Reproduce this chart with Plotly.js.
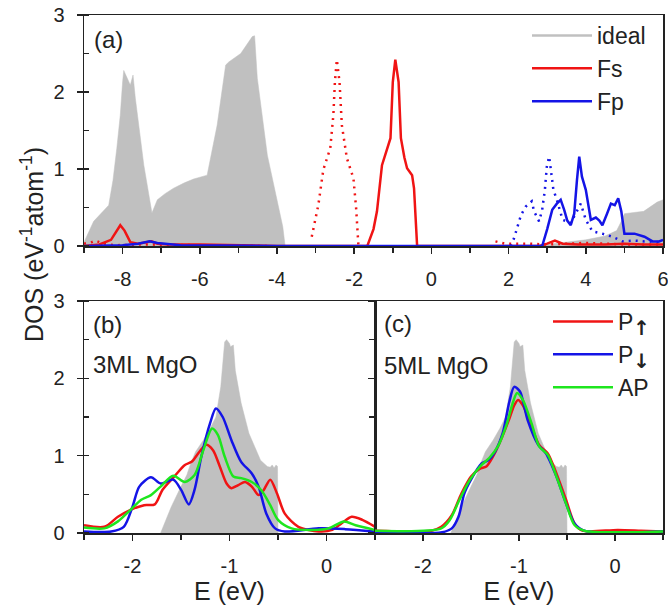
<!DOCTYPE html>
<html>
<head>
<meta charset="utf-8">
<script src="https://cdn.plot.ly/plotly-3.0.1.min.js"></script>
<style>html,body{margin:0;padding:0;background:#fff;}#plot{width:668px;height:609px;}</style>
</head>
<body>
<div id="plot"></div>
<script>
// ---------- Panel (a) data ----------
const idealA_E = [-9, -8.75, -8.36, -8.25, -8.15, -8.06, -8.0, -7.97, -7.8, -7.73, -7.67, -7.45, -7.24, -7.15, -7.1, -6.9, -6.68, -6.4, -6.16, -5.81, -5.55, -5.33, -5.25, -4.94, -4.64, -4.58, -4.51, -4.25, -3.99, -3.85, -3.79, 2.8, 3.0, 3.5, 4.0, 4.5, 4.8, 4.95, 5.0, 5.5, 5.7, 5.85, 6.0];
const idealA_D = [0.05, 0.32, 0.53, 0.85, 1.27, 1.7, 2.13, 2.28, 2.09, 2.22, 1.92, 1.05, 0.43, 0.53, 0.6, 0.68, 0.75, 0.82, 0.87, 0.92, 1.57, 2.35, 2.39, 2.50, 2.72, 2.73, 2.18, 1.18, 0.58, 0.25, 0, 0, 0.02, 0.05, 0.08, 0.13, 0.2, 0.35, 0.42, 0.45, 0.52, 0.57, 0.6];

const fsE = [-9, -8.6, -8.3, -8.15, -8.06, -7.95, -7.8, -7.6, -7.4, -7.25, -7.1, -6.8, -6, -4, -2, -1.66, -1.5, -1.41, -1.28, -1.15, -1.06, -1.0, -0.935, -0.85, -0.79, -0.7, -0.63, -0.5, -0.45, -0.37, 0, 2.8, 3.0, 3.2, 3.4, 3.8, 4.5, 5, 5.5, 6];
const fsD = [0.0, 0.02, 0.08, 0.2, 0.27, 0.2, 0.05, 0.03, 0.05, 0.06, 0.03, 0.02, 0.02, 0.0, 0, 0, 0.22, 0.45, 1.05, 1.25, 1.40, 2.13, 2.42, 2.13, 1.4, 1.15, 1.01, 0.92, 0.75, 0, 0, 0, 0.03, 0.07, 0.03, 0.02, 0.02, 0.03, 0.02, 0.02];

const fsMinE = [-9, -8.8, -8.7, -8.5, -8.2, -7.5, -6, -4.2, null, -3.1, -2.93, -2.8, -2.62, -2.54, -2.5, -2.45, -2.38, -2.32, -2.19, -2.02, -1.95, -1.89, null, 1.66, 1.9, 2.5, 3, 4, 5, 6];
const fsMinD = [0.03, 0.05, 0.07, 0.03, 0.01, 0.02, 0.01, 0.0, null, 0.12, 0.53, 0.99, 1.27, 1.70, 2.13, 2.42, 2.13, 1.57, 1.14, 0.88, 0.49, 0, null, 0.06, 0.03, 0.03, 0.02, 0.04, 0.02, 0.02];

const fpE = [-9, -8, -7.6, -7.3, -7.1, -6.5, -4, 2.8, 2.87, 3.0, 3.13, 3.25, 3.35, 3.44, 3.52, 3.61, 3.7, 3.77, 3.83, 3.9, 4.0, 4.13, 4.26, 4.35, 4.43, 4.55, 4.65, 4.75, 4.84, 4.92, 5.0, 5.26, 5.52, 5.73, 5.9, 6];
const fpD = [0, 0.01, 0.03, 0.06, 0.04, 0.01, 0, 0, 0.0, 0.22, 0.47, 0.55, 0.60, 0.47, 0.33, 0.27, 0.42, 0.85, 1.16, 0.9, 0.73, 0.34, 0.37, 0.33, 0.27, 0.42, 0.55, 0.53, 0.62, 0.45, 0.16, 0.16, 0.12, 0.06, 0.06, 0.08];

const fpMinE = [2.05, 2.14, 2.23, 2.32, 2.44, 2.6, 2.66, 2.79, 2.87, 2.94, 2.99, 3.05, 3.09, 3.16, 3.25, 3.40, 3.61, 3.77, 3.87, 4.0, 4.17, 4.43, 4.69, 4.95, 5.26, 5.52, 5.78, 6.0];
const fpMinD = [0.0, 0.1, 0.25, 0.40, 0.51, 0.58, 0.45, 0.32, 0.47, 0.73, 1.03, 1.16, 1.01, 0.73, 0.6, 0.34, 0.30, 0.45, 0.55, 0.34, 0.19, 0.16, 0.12, 0.06, 0.07, 0.06, 0.05, 0.05];

// ---------- Panels (b), (c): ideal ----------
const idealB_E = [-1.71, -1.60, -1.50, -1.44, -1.40, -1.35, -1.27, -1.20, -1.14, -1.09, -1.05, -1.03, -1.0, -0.99, -0.96, -0.94, -0.88, -0.80, -0.68, -0.61, -0.58, -0.56, -0.54, -0.52, -0.505, -0.50];
const idealB_D = [0, 0.34, 0.6, 0.75, 0.9, 1.05, 1.2, 1.35, 1.5, 1.89, 2.47, 2.5, 2.45, 2.41, 2.43, 2.1, 1.68, 1.29, 0.94, 0.86, 0.85, 0.88, 0.84, 0.88, 0.86, 0];

// ---------- Panel (b): 3ML MgO ----------
const b_upE = [-2.5, -2.29, -2.15, -2.02, -1.88, -1.77, -1.69, -1.57, -1.46, -1.39, -1.31, -1.24, -1.17, -1.10, -1.03, -0.98, -0.91, -0.84, -0.77, -0.70, -0.65, -0.58, -0.51, -0.43, -0.29, -0.08, 0.06, 0.16, 0.26, 0.37, 0.5];
const b_upD = [0.10, 0.08, 0.21, 0.30, 0.36, 0.37, 0.56, 0.73, 0.88, 0.92, 1.05, 1.14, 1.07, 0.86, 0.64, 0.58, 0.62, 0.66, 0.60, 0.49, 0.55, 0.69, 0.51, 0.25, 0.08, 0.02, 0.04, 0.13, 0.21, 0.17, 0.08];
const b_dnE = [-2.5, -2.22, -2.09, -2.0, -1.93, -1.81, -1.71, -1.58, -1.5, -1.42, -1.36, -1.29, -1.2, -1.14, -1.07, -0.98, -0.88, -0.77, -0.70, -0.62, -0.53, -0.43, -0.08, 0.19, 0.5];
const b_dnD = [0.02, 0.02, 0.08, 0.34, 0.60, 0.72, 0.64, 0.69, 0.56, 0.37, 0.56, 0.99, 1.42, 1.61, 1.50, 1.20, 0.92, 0.77, 0.60, 0.25, 0.06, 0.02, 0.06, 0.05, 0.02];
const b_apE = [-2.5, -2.29, -2.15, -2.02, -1.91, -1.81, -1.71, -1.58, -1.46, -1.36, -1.27, -1.18, -1.12, -1.05, -0.96, -0.88, -0.77, -0.67, -0.58, -0.50, -0.36, -0.15, 0.02, 0.18, 0.30, 0.5];
const b_apD = [0.07, 0.06, 0.15, 0.30, 0.43, 0.49, 0.60, 0.74, 0.66, 0.75, 1.07, 1.35, 1.27, 0.99, 0.73, 0.71, 0.66, 0.55, 0.36, 0.17, 0.06, 0.04, 0.06, 0.15, 0.10, 0.04];

// ---------- Panel (c): 5ML MgO ----------
const c_upE = [-2.5, -1.91, -1.81, -1.70, -1.60, -1.50, -1.41, -1.34, -1.27, -1.19, -1.10, -1.05, -1.01, -0.96, -0.87, -0.79, -0.70, -0.61, -0.51, -0.42, -0.34, 0.03, 0.27, 0.5];
const c_upD = [0.03, 0.03, 0.08, 0.23, 0.51, 0.73, 0.83, 0.86, 0.99, 1.20, 1.48, 1.65, 1.72, 1.65, 1.38, 1.14, 1.03, 0.77, 0.43, 0.12, 0.03, 0.04, 0.03, 0.02];
const c_dnE = [-2.5, -1.8, -1.70, -1.63, -1.57, -1.50, -1.39, -1.32, -1.25, -1.17, -1.10, -1.05, -0.99, -0.91, -0.80, -0.72, -0.61, -0.51, -0.42, -0.32, 0.5];
const c_dnD = [0.01, 0.01, 0.06, 0.21, 0.51, 0.69, 0.90, 0.94, 1.05, 1.29, 1.70, 1.89, 1.83, 1.46, 1.14, 1.03, 0.73, 0.38, 0.12, 0.03, 0.02];
const c_apE = [-2.5, -1.81, -1.72, -1.62, -1.51, -1.39, -1.31, -1.22, -1.13, -1.06, -1.02, -0.96, -0.87, -0.79, -0.70, -0.61, -0.51, -0.42, -0.32, 0.5];
const c_apD = [0.03, 0.06, 0.17, 0.43, 0.69, 0.88, 0.97, 1.12, 1.40, 1.70, 1.81, 1.72, 1.42, 1.12, 1.01, 0.73, 0.38, 0.10, 0.03, 0.02];

// ---------- ticks / labels ----------
const aTickVals = [-8, -6, -4, -2, 0, 2, 4, 6];
const aTickText = ['-8', '-6', '-4', '-2', '0', '2', '4', '6'];
const bcTickVals = [-2, -1, 0];
const bcTickText = ['-2', '-1', '0'];
const yTickVals = [0, 1, 2, 3];
const yTickText = ['0', '1', '2', '3'];

const RED = '#f01414', BLUE = '#1414e6', GREEN = '#1ee61e', GRAY = '#c0c0c0';
const FONT = 'Liberation Sans, Arial, sans-serif';
const ARROW = s => 'P<sub><span style="font-family:DejaVu Sans;font-weight:bold;font-size:20px">' + s + '</span></sub>';

const traces = [
  {x: idealA_E, y: idealA_D, xaxis: 'x', yaxis: 'y', type: 'scatter', mode: 'lines', fill: 'tozeroy', fillcolor: GRAY, line: {color: GRAY, width: 0.5}, showlegend: false, hoverinfo: 'skip'},
  {x: [null], y: [null], xaxis: 'x', yaxis: 'y', type: 'scatter', mode: 'lines', name: 'ideal', line: {color: GRAY, width: 2.5}, legend: 'legend'},
  {x: fsMinE, y: fsMinD, xaxis: 'x', yaxis: 'y', type: 'scatter', mode: 'lines', line: {color: RED, width: 2.5, dash: '2px,5px'}, showlegend: false, connectgaps: false},
  {x: fpMinE, y: fpMinD, xaxis: 'x', yaxis: 'y', type: 'scatter', mode: 'lines', line: {color: BLUE, width: 2.5, dash: '2px,5px'}, showlegend: false},
  {x: fsE, y: fsD, xaxis: 'x', yaxis: 'y', type: 'scatter', mode: 'lines', name: 'Fs', line: {color: RED, width: 2.5}, legend: 'legend'},
  {x: fpE, y: fpD, xaxis: 'x', yaxis: 'y', type: 'scatter', mode: 'lines', name: 'Fp', line: {color: BLUE, width: 2.5}, legend: 'legend'},

  {x: idealB_E, y: idealB_D, xaxis: 'x2', yaxis: 'y2', type: 'scatter', mode: 'lines', fill: 'tozeroy', fillcolor: GRAY, line: {color: GRAY, width: 0.5}, showlegend: false},
  {x: b_upE, y: b_upD, xaxis: 'x2', yaxis: 'y2', type: 'scatter', mode: 'lines', line: {color: RED, width: 2.5, shape: 'spline', smoothing: 0.8}, showlegend: false},
  {x: b_dnE, y: b_dnD, xaxis: 'x2', yaxis: 'y2', type: 'scatter', mode: 'lines', line: {color: BLUE, width: 2.5, shape: 'spline', smoothing: 0.8}, showlegend: false},
  {x: b_apE, y: b_apD, xaxis: 'x2', yaxis: 'y2', type: 'scatter', mode: 'lines', line: {color: GREEN, width: 2.5, shape: 'spline', smoothing: 0.8}, showlegend: false},

  {x: idealB_E, y: idealB_D, xaxis: 'x3', yaxis: 'y3', type: 'scatter', mode: 'lines', fill: 'tozeroy', fillcolor: GRAY, line: {color: GRAY, width: 0.5}, showlegend: false},
  {x: c_upE, y: c_upD, xaxis: 'x3', yaxis: 'y3', type: 'scatter', mode: 'lines', name: ARROW('↑'), line: {color: RED, width: 2.5, shape: 'spline', smoothing: 0.8}, legend: 'legend2'},
  {x: c_dnE, y: c_dnD, xaxis: 'x3', yaxis: 'y3', type: 'scatter', mode: 'lines', name: ARROW('↓'), line: {color: BLUE, width: 2.5, shape: 'spline', smoothing: 0.8}, legend: 'legend2'},
  {x: c_apE, y: c_apD, xaxis: 'x3', yaxis: 'y3', type: 'scatter', mode: 'lines', name: 'AP', line: {color: GREEN, width: 2.5, shape: 'spline', smoothing: 0.8}, legend: 'legend2'}
];

const W = 668, H = 609;
const px = v => v / W, py = v => 1 - v / H;

const axLine = {showline: true, linecolor: '#222', linewidth: 1.5, mirror: true, showgrid: false, zeroline: false,
  tickfont: {family: FONT, size: 20, color: '#222'}, tickcolor: '#222', tickwidth: 1.5, ticklabeloverflow: 'allow'};

function xax(domain, range, vals, text) {
  return Object.assign({}, axLine, {domain: domain, range: range, tickmode: 'array', tickvals: vals, ticktext: text,
    ticks: 'outside', ticklen: 6, ticklabelstandoff: 8,
    minor: {dtick: (range[1] - range[0]) > 5 ? 1 : 0.5, tick0: 0, ticks: 'outside', ticklen: 5, tickcolor: '#222', tickwidth: 1.5}});
}
function yax(domain, anchor, labels, minorTicks) {
  return Object.assign({}, axLine, {domain: domain, range: [0, 3], anchor: anchor, tickmode: 'array', tickvals: yTickVals, ticktext: yTickText,
    ticks: 'outside', ticklen: 6, showticklabels: labels, ticklabelstandoff: 8,
    minor: {dtick: 0.5, tick0: 0, ticks: minorTicks, ticklen: 5, tickcolor: '#222', tickwidth: 1.5}});
}

const layout = {
  width: W, height: H,
  margin: {l: 0, r: 0, t: 0, b: 0},
  paper_bgcolor: '#fff', plot_bgcolor: 'rgba(0,0,0,0)',
  font: {family: FONT, color: '#222'},
  xaxis: Object.assign(xax([px(84), px(663)], [-9, 6], aTickVals, aTickText), {anchor: 'y'}),
  yaxis: yax([py(246), py(15)], 'x', true, 'inside'),
  xaxis2: Object.assign(xax([px(84), px(375)], [-2.5, 0.5], bcTickVals, bcTickText), {anchor: 'y2',
    title: {text: 'E (eV)', font: {family: FONT, size: 25, color: '#222'}, standoff: 6}}),
  yaxis2: yax([py(533), py(301)], 'x2', true, 'inside'),
  xaxis3: Object.assign(xax([px(375), px(663)], [-2.5, 0.5], bcTickVals, bcTickText), {anchor: 'y3',
    title: {text: 'E (eV)', font: {family: FONT, size: 25, color: '#222'}, standoff: 6}}),
  yaxis3: yax([py(533), py(301)], 'x3', false, 'outside'),
  legend: {x: px(527), y: py(14), xanchor: 'left', yanchor: 'top', bgcolor: 'rgba(0,0,0,0)', itemwidth: 60,
    font: {family: FONT, size: 23, color: '#222'}, tracegroupgap: 0},
  legend2: {x: px(548), y: py(300), xanchor: 'left', yanchor: 'top', bgcolor: 'rgba(0,0,0,0)', itemwidth: 60,
    font: {family: FONT, size: 23, color: '#222'}, tracegroupgap: 0},
  annotations: [
    {text: 'DOS (eV<sup>-1</sup>atom<sup>-1</sup>)', xref: 'paper', yref: 'paper', x: px(32), y: py(245), textangle: -90,
      showarrow: false, xanchor: 'center', yanchor: 'middle', font: {family: FONT, size: 25, color: '#222'}},
    {text: '(a)', xref: 'paper', yref: 'paper', x: px(92), y: py(39), xanchor: 'left', yanchor: 'middle', showarrow: false, font: {family: FONT, size: 24, color: '#222'}},
    {text: '(b)', xref: 'paper', yref: 'paper', x: px(91), y: py(324), xanchor: 'left', yanchor: 'middle', showarrow: false, font: {family: FONT, size: 24, color: '#222'}},
    {text: '3ML MgO', xref: 'paper', yref: 'paper', x: px(91), y: py(364), xanchor: 'left', yanchor: 'middle', showarrow: false, font: {family: FONT, size: 24, color: '#222'}},
    {text: '(c)', xref: 'paper', yref: 'paper', x: px(382), y: py(323), xanchor: 'left', yanchor: 'middle', showarrow: false, font: {family: FONT, size: 24, color: '#222'}},
    {text: '5ML MgO', xref: 'paper', yref: 'paper', x: px(382), y: py(365), xanchor: 'left', yanchor: 'middle', showarrow: false, font: {family: FONT, size: 24, color: '#222'}}
  ]
};

Plotly.newPlot('plot', traces, layout, {displayModeBar: false, staticPlot: true});
</script>
</body>
</html>
